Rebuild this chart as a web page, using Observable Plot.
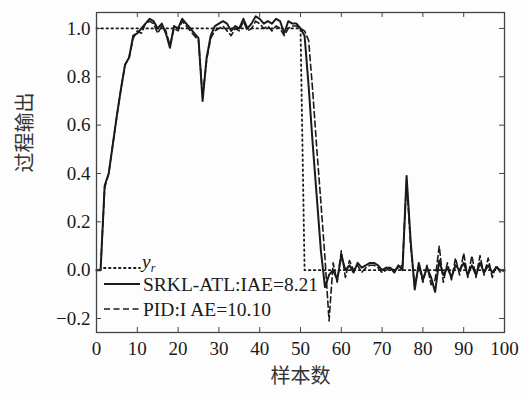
<!DOCTYPE html>
<html>
<head>
<meta charset="utf-8">
<script src="https://cdn.jsdelivr.net/npm/d3@7"></script>
<script src="https://cdn.jsdelivr.net/npm/@observablehq/plot@0.6"></script>
<style>
  html, body { margin: 0; padding: 0; background: #fdfdfd; }
  #chart svg { display: block; background: #fdfdfd; }
</style>
</head>
<body>
<div id="chart"></div>
<script>
// Sample index 0..100
const samples = d3.range(0, 101);

// Reference set point y_r
const yrValues = samples.map(k => (k <= 50 ? 1 : 0));

// SRKL-ATL output (solid)
const srklValues = [
  0, 0, 0.35, 0.40, 0.52, 0.64, 0.75, 0.85, 0.88, 0.97,
  0.98, 1.00, 1.02, 1.04, 1.03, 1.00, 1.02, 0.98, 0.92, 1.01,
  1.00, 1.04, 1.02, 1.00, 0.98, 0.96, 0.70, 0.88, 0.97, 1.01,
  1.02, 1.03, 1.02, 0.99, 1.01, 1.00, 1.04, 1.00, 1.02, 1.05,
  1.04, 1.02, 1.03, 1.02, 1.04, 1.03, 0.98, 1.03, 1.02, 1.02,
  1.00, 0.97, 0.76, 0.52, 0.30, 0.08, -0.07, -0.02, 0.00, -0.04,
  0.06, 0.00, 0.02, -0.01, 0.03, 0.01, 0.02, 0.03, 0.03, 0.02,
  0.00, 0.01, 0.01, -0.01, 0.02, 0.00, 0.39, 0.12, -0.08, 0.03,
  -0.04, 0.01, -0.03, -0.09, 0.04, -0.02, 0.01, -0.03, 0.02, 0.00,
  0.03, -0.02, 0.02, -0.02, 0.03, -0.01, 0.02, -0.01, 0.01, 0.00,
  0.00
];

// PID output (dashed)
const pidValues = [
  0, 0, 0.34, 0.40, 0.52, 0.64, 0.75, 0.85, 0.88, 0.96,
  0.99, 0.98, 1.02, 1.03, 1.02, 0.98, 1.01, 0.99, 0.93, 1.00,
  0.99, 1.03, 1.01, 0.99, 0.97, 0.95, 0.72, 0.87, 0.96, 0.99,
  1.00, 1.01, 0.99, 0.97, 1.00, 0.99, 1.03, 0.99, 1.00, 1.03,
  1.02, 1.00, 1.01, 0.99, 1.01, 1.00, 0.97, 1.00, 1.01, 1.01,
  1.00, 0.99, 0.95, 0.74, 0.50, 0.28, 0.05, -0.21, 0.03, -0.05,
  0.08, -0.03, 0.04, 0.00, 0.02, -0.01, 0.01, 0.02, 0.02, 0.01,
  -0.01, 0.00, 0.01, 0.00, 0.01, 0.02, 0.37, 0.10, -0.07, 0.02,
  -0.05, 0.02, -0.06, -0.04, 0.10, -0.05, 0.03, -0.04, 0.05, -0.02,
  0.07, -0.03, 0.06, -0.03, 0.06, -0.02, 0.05, -0.03, 0.02, -0.01,
  0.00
];

const xTicks = [0, 10, 20, 30, 40, 50, 60, 70, 80, 90, 100];
const yTicks = [-0.2, 0.0, 0.2, 0.4, 0.6, 0.8, 1.0];

const legendLabels = ["y", "SRKL-ATL:IAE=8.21", "PID:I AE=10.10"];
const xLabel = "样本数";
const yLabel = "过程输出";

const W = 528, H = 399;
const mL = 96, mR = 24, mT = 12, mB = 67;
const pw = W - mL - mR, ph = H - mT - mB;
const tick = 5;
const ink = "#1a1a1a";
const serif = "'Liberation Serif', 'DejaVu Serif', serif";
const cjk = "'Noto Sans CJK SC', sans-serif";

const data = samples.map((k, i) => ({k, yr: yrValues[i], s: srklValues[i], p: pidValues[i]}));

const plot = Plot.plot({
  width: W,
  height: H,
  marginLeft: mL,
  marginRight: mR,
  marginTop: mT,
  marginBottom: mB,
  style: {background: "#fdfdfd", fontFamily: serif, fontSize: "19px", color: ink},
  x: {domain: [0, 100]},
  y: {domain: [-0.258, 1.066]},
  marks: [
    Plot.line(data, {x: "k", y: "yr", stroke: ink, strokeWidth: 1.8, strokeDasharray: "1.5,3.5", strokeLinecap: "round"}),
    Plot.line(data, {x: "k", y: "p", stroke: ink, strokeWidth: 1.6, strokeDasharray: "6,3.5"}),
    Plot.line(data, {x: "k", y: "s", stroke: ink, strokeWidth: 2}),
    // inward ticks on all four sides
    Plot.tickY(yTicks, {y: d => d, stroke: "#444", insetRight: pw - tick}),
    Plot.tickY(yTicks, {y: d => d, stroke: "#444", insetLeft: pw - tick}),
    Plot.tickX(xTicks, {x: d => d, stroke: "#444", insetTop: ph - tick}),
    Plot.tickX(xTicks, {x: d => d, stroke: "#444", insetBottom: ph - tick}),
    Plot.axisX(xTicks, {tickSize: 0, tickPadding: 9, label: null, fontSize: 19, fill: ink}),
    Plot.axisY(yTicks, {tickSize: 0, tickPadding: 6, label: null, fontSize: 19, fill: ink, tickFormat: d3.format(".1f")}),
    Plot.frame({stroke: "#444", strokeWidth: 1.3}),
    Plot.text([xLabel], {frameAnchor: "bottom", dy: 50, text: d => d, fontFamily: cjk, fontSize: 20, fill: "#333"}),
    Plot.text([yLabel], {frameAnchor: "left", dx: -71, rotate: -90, text: d => d, fontFamily: cjk, fontSize: 20, fill: "#333"})
  ]
});

document.getElementById("chart").appendChild(plot);

// Legend inside the plot area
const svg = d3.select(plot);
const lg = svg.append("g")
  .attr("font-family", serif).attr("font-size", 19.5).attr("fill", ink)
  .attr("text-anchor", "start");
const rows = [
  {y: 268, dash: "1.5,3.5", w: 1.8, cap: "round"},
  {y: 284, dash: null, w: 2, cap: "butt"},
  {y: 309, dash: "6,3.5", w: 1.6, cap: "butt"}
];
rows.forEach(r => {
  lg.append("line")
    .attr("x1", 104).attr("x2", 140).attr("y1", r.y).attr("y2", r.y)
    .attr("stroke", ink).attr("stroke-width", r.w)
    .attr("stroke-dasharray", r.dash).attr("stroke-linecap", r.cap);
});
const yr = lg.append("text").attr("x", 142).attr("y", 268).attr("font-style", "italic");
yr.append("tspan").text(legendLabels[0]);
yr.append("tspan").attr("font-size", 12).attr("dy", 4).text("r");
lg.append("text").attr("x", 143).attr("y", 291).text(legendLabels[1]);
lg.append("text").attr("x", 143).attr("y", 316).text(legendLabels[2]);
</script>
</body>
</html>
